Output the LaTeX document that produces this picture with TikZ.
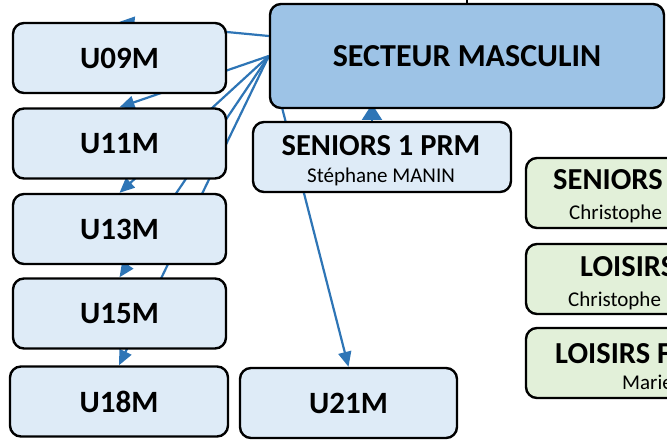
\documentclass[tikz,border=0pt]{standalone}
\usepackage{fontspec}
\setmainfont{Carlito}
\usetikzlibrary{arrows.meta,backgrounds}
\definecolor{ublue}{HTML}{DEEBF7}
\definecolor{sblue}{HTML}{9DC3E6}
\definecolor{lgreen}{HTML}{E2F0D9}
\definecolor{cblue}{HTML}{2E75B6}
\begin{document}
\begin{tikzpicture}[x=1pt,y=-1pt,
  box/.style={draw=black, line width=2.4pt, rounded corners=11pt, fill=ublue, inner sep=0pt, align=center},
  gbox/.style={box, fill=lgreen, minimum width=273pt, minimum height=70pt},
  ubox/.style={box, minimum width=213pt, minimum height=70pt, font=\bfseries\fontsize{31}{36}\selectfont},
  conn/.style={draw=cblue, line width=2.2pt, -{Triangle[length=15pt,width=13pt]}},
  big/.style={font=\bfseries\fontsize{30.5}{34}\selectfont, inner sep=0pt},
  small/.style={font=\fontsize{21}{25}\selectfont, inner sep=0pt},
]
\useasboundingbox (0,0) rectangle (667,446);
\clip (0,0) rectangle (667,446);
\node[ubox] (u09) at (119.5,58) {U09M};
\node[ubox] (u11) at (119.5,143.5) {U11M};
\node[ubox] (u13) at (119.5,229) {U13M};
\node[ubox] (u15) at (119.5,313.5) {U15M};
\node[ubox, minimum width=218pt] (u18) at (119,401.5) {U18M};
\node[ubox, minimum width=217pt] (u21) at (348.5,403) {U21M};
\node[box, fill=sblue, minimum width=394pt, minimum height=104pt, font=\bfseries\fontsize{32}{38}\selectfont] (sect) at (467,56) {SECTEUR MASCULIN};
\node[box, minimum width=258pt, minimum height=70pt] (s1) at (382,157) {};
\node[big, anchor=base] (s1a) at (381,156) {SENIORS 1 PRM};
\node[small, anchor=base] (s1b) at (381,183) {Stéphane MANIN};
\node[gbox] (g1) at (662.5,193) {};
\node[gbox] (g2) at (662.5,279) {};
\node[gbox] (g3) at (662.5,363) {};
\node[big, anchor=base west] (g1a) at (553,190) {SENIORS};
\node[small, anchor=base west] (g1b) at (569,220) {Christophe};
\node[big, anchor=base west] (g2a) at (580,277) {LOISIRS};
\node[small, anchor=base west] (g2b) at (568,307) {Christophe};
\node[big, anchor=base west] (g3a) at (555,363) {LOISIRS F};
\node[small, anchor=base west] (g3b) at (622,390) {Marie};
\coordinate (tipS) at (372,104);
\coordinate (topC) at (467,-10);
\begin{scope}[on background layer]
\draw[conn] ([yshift=20pt]sect.west) -- (u09.north);
\draw[conn] (sect.west) -- (u11.north);
\draw[conn] (sect.west) -- (u13.north);
\draw[conn] (sect.west) -- (u15.north);
\draw[conn] (sect.west) -- (u18.north);
\draw[conn] (sect.west) -- (u21.north);
\draw[conn, -{Triangle[length=16pt,width=20pt]}] ([xshift=-10pt]s1.north) -- (tipS);
\draw[black, line width=1.5pt] (sect.north) -- (topC);
\end{scope}
\end{tikzpicture}
\end{document}
